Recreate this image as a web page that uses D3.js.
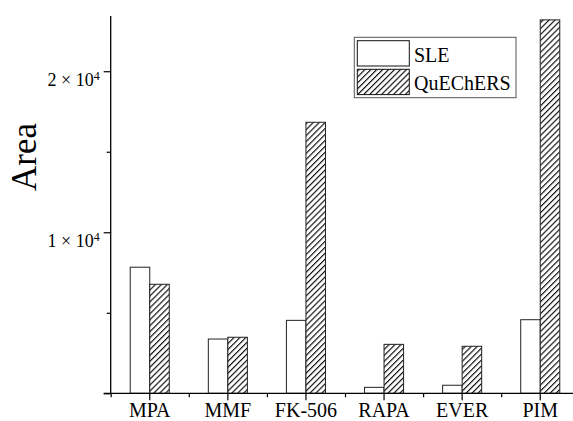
<!DOCTYPE html>
<html>
<head>
<meta charset="utf-8">
<script src="https://cdn.jsdelivr.net/npm/d3@7"></script>
<style>
  html, body { margin: 0; padding: 0; background: #fff; }
  svg { display: block; font-family: "Liberation Serif", "DejaVu Serif", serif; }
</style>
</head>
<body>
<svg id="chart" width="573" height="421"></svg>
<script>
// Peak areas per analyte for the two extraction methods
const categories = ["MPA", "MMF", "FK-506", "RAPA", "EVER", "PIM"];
const seriesNames = ["SLE", "QuEChERS"];
const sleValues = [7830, 3370, 4530, 370, 500, 4570];
const quechersValues = [6770, 3480, 16830, 3040, 2920, 23190];
const majorTicks = [0, 10000, 20000];
const minorTicks = [5000, 15000];
const majorTickMantissa = ["", "1", "2"];
const yTitle = "Area";

const yMax = 23430;

const svg = d3.select("#chart");

// Diagonal hatch used for the QuEChERS series
const defs = svg.append("defs");
const hatch = defs.append("pattern")
  .attr("id", "hatch")
  .attr("patternUnits", "userSpaceOnUse")
  .attr("width", 4.2)
  .attr("height", 4.2)
  .attr("patternTransform", "rotate(45)");
hatch.append("rect").attr("width", 4.2).attr("height", 4.2).attr("fill", "#fff");
hatch.append("line")
  .attr("x1", 0.6).attr("y1", 0).attr("x2", 0.6).attr("y2", 4.2)
  .attr("stroke", "#000").attr("stroke-width", 1.1);

const plotLeft = 110.7, plotRight = 579.3, plotBottom = 393.3, plotTop = 16;

const x = d3.scaleBand()
  .domain(categories)
  .range([plotLeft, plotRight])
  .paddingInner(0.5)
  .paddingOuter(0.25);

const xSub = d3.scaleBand()
  .domain(seriesNames)
  .range([0, x.bandwidth()]);

const y = d3.scaleLinear()
  .domain([0, yMax])
  .range([plotBottom, plotTop]);

const rows = categories.map((c, i) => ({
  category: c,
  values: [
    { series: "SLE", value: sleValues[i] },
    { series: "QuEChERS", value: quechersValues[i] }
  ]
}));

const fillFor = s => s === "SLE" ? "#fff" : "url(#hatch)";

// Bars
const groups = svg.append("g").selectAll("g")
  .data(rows)
  .join("g")
  .attr("transform", d => `translate(${x(d.category)},0)`);

groups.selectAll("rect")
  .data(d => d.values)
  .join("rect")
  .attr("x", d => xSub(d.series))
  .attr("y", d => y(d.value))
  .attr("width", xSub.bandwidth())
  .attr("height", d => y(0) - y(d.value))
  .attr("fill", d => fillFor(d.series))
  .attr("stroke", "#222")
  .attr("stroke-width", 1);

// Y axis: major and minor ticks
const yAxisMajor = svg.append("g")
  .attr("transform", `translate(${plotLeft},0)`)
  .call(d3.axisLeft(y).tickValues(majorTicks).tickSize(7).tickSizeOuter(0).tickFormat(""));
yAxisMajor.select(".domain").remove();
svg.append("g")
  .attr("transform", `translate(${plotLeft},0)`)
  .call(d3.axisLeft(y).tickValues(minorTicks).tickSize(4).tickSizeOuter(0).tickFormat(""))
  .select(".domain").remove();

svg.selectAll(".tick line").attr("stroke", "#000").attr("stroke-width", 1.2);

svg.append("line")
  .attr("x1", plotLeft).attr("x2", plotLeft)
  .attr("y1", y(0)).attr("y2", plotTop)
  .attr("stroke", "#000").attr("stroke-width", 1.3);

// Y tick labels written as m × 10^4
const yLabels = svg.append("g").attr("font-size", 18).attr("fill", "#000");
majorTicks.forEach((v, i) => {
  if (!majorTickMantissa[i]) return;
  const t = yLabels.append("text")
    .attr("x", plotLeft - 11)
    .attr("y", y(v) + 15)
    .attr("text-anchor", "end");
  t.append("tspan").text(majorTickMantissa[i] + " \u00D7 10");
  t.append("tspan").attr("font-size", 12).attr("dy", -6).text("4");
});

// X axis: labelled ticks at category centres, short ticks at band edges
const xAxis = svg.append("g")
  .attr("transform", `translate(0,${plotBottom})`)
  .call(d3.axisBottom(x).tickSize(7).tickSizeOuter(0).tickPadding(3));
xAxis.select(".domain").remove();
xAxis.selectAll(".tick line").attr("stroke", "#000").attr("stroke-width", 1.2);
xAxis.selectAll(".tick text")
  .attr("font-family", "Liberation Serif, serif")
  .attr("font-size", 20)
  .attr("fill", "#000");

const edgeScale = d3.scaleLinear().domain([0, categories.length]).range([plotLeft, plotRight]);
const edges = svg.append("g")
  .attr("transform", `translate(0,${plotBottom})`)
  .call(d3.axisBottom(edgeScale).tickValues(d3.range(categories.length + 1)).tickSize(4).tickSizeOuter(0).tickFormat(""));
edges.select(".domain").remove();
edges.selectAll(".tick line").attr("stroke", "#000").attr("stroke-width", 1.2);

svg.append("line")
  .attr("x1", plotLeft - 7).attr("x2", plotRight)
  .attr("y1", plotBottom).attr("y2", plotBottom)
  .attr("stroke", "#000").attr("stroke-width", 1.3);

// Y axis title
svg.append("text")
  .attr("transform", `translate(36,157) rotate(-90)`)
  .attr("text-anchor", "middle")
  .attr("font-size", 35)
  .attr("fill", "#000")
  .text(yTitle);

// Legend
const legend = svg.append("g");
legend.append("rect")
  .attr("x", 354.3).attr("y", 37.3)
  .attr("width", 161.7).attr("height", 60.4)
  .attr("fill", "#fff")
  .attr("stroke", "#555")
  .attr("stroke-width", 1);

seriesNames.forEach((s, i) => {
  const yy = 40.7 + i * 28.6;
  legend.append("rect")
    .attr("x", 357.3).attr("y", yy)
    .attr("width", 52).attr("height", 25.3)
    .attr("fill", fillFor(s))
    .attr("stroke", "#111")
    .attr("stroke-width", 1);
  legend.append("text")
    .attr("x", 414).attr("y", yy + 21)
    .attr("font-size", 20)
    .attr("fill", "#000")
    .text(s);
});
</script>
</body>
</html>
